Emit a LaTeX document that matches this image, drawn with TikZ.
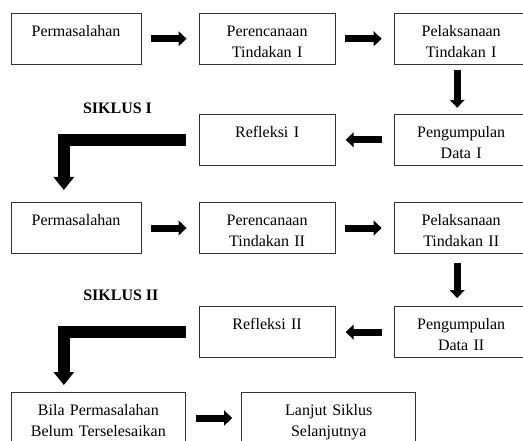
\documentclass[tikz,border=0pt]{standalone}
\usepackage{fontspec}
\setmainfont{Liberation Serif}
\usetikzlibrary{positioning}
\usetikzlibrary{arrows.meta}
\tikzstyle{box} = [draw=black!80, line width=0.8pt, inner sep=0pt, align=center, text width=102pt, text height=17.4pt, text depth=20.85pt, font=\fontsize{12}{15.75}\selectfont]
\tikzstyle{arr} = [line width=5.25pt, -{Triangle[width=11pt,length=6pt]}, shorten <=7pt, shorten >=9pt]
\tikzstyle{bigarr} = [line width=9pt, -{Triangle[width=15pt,length=9.75pt]}]
\tikzstyle{siklus} = [font=\fontsize{12}{14}\selectfont\bfseries, inner sep=0pt]

\begin{document}
\begin{tikzpicture}[x=0.75pt, y=-0.75pt]
\useasboundingbox (0,0) rectangle (523,441);

% Siklus I
\node[box, text width=97.5pt, anchor=north west] at (10.5,12.7) (p1) {Permasalahan};
\node[box, right = 42.75pt of p1]                 (r1) {Perencanaan\\Tindakan I};
\node[box, text width=100.5pt, right = 43.5pt of r1] (c1) {Pelaksanaan\\Tindakan I};
\node[box, text width=100.5pt, below = 36.75pt of c1] (d1) {Pengumpulan\\Data I};
\node[box, left = 43.5pt of d1]                  (f1) {Refleksi I};
\node[siklus] at (117.5,108)                     (s1) {SIKLUS I};

% Siklus II
\node[box, text width=97.5pt, anchor=north west] at (10.5,202) (p2) {Permasalahan};
\node[box, right = 42.75pt of p2]                 (r2) {Perencanaan\\Tindakan II};
\node[box, text width=100.5pt, right = 43.5pt of r2] (c2) {Pelaksanaan\\Tindakan II};
\node[box, text width=100.5pt, below = 39pt of c2] (d2) {Pengumpulan\\Data II};
\node[box, left = 43.5pt of d2]                  (f2) {Refleksi II};
\node[siklus, anchor=west] at (83,295)           (s2) {SIKLUS II};

% Lanjut
\node[box, text width=131pt, anchor=north west] at (10.5,392) (b) {Bila Permasalahan\\Belum Terselesaikan};
\node[box, text width=130.5pt, right = 41.25pt of b] (l) {Lanjut Siklus\\Selanjutnya};

% Edges
\draw[arr] (p1) -- (r1);
\draw[arr] (r1) -- (c1);
\draw[arr, shorten <=4pt, shorten >=4.5pt] ([xshift=-3pt]c1.south) -- ([xshift=-3pt]d1.north);
\draw[arr, shorten <=9pt, shorten >=7.5pt] (d1) -- (f1);
\draw[bigarr, shorten >=9pt] ([xshift=-9.75pt]f1.west) -| ([xshift=40pt]p2.north west);

\draw[arr] (p2) -- (r2);
\draw[arr] (r2) -- (c2);
\draw[arr, shorten <=7pt, shorten >=6pt] ([xshift=-3pt]c2.south) -- ([xshift=-3pt]d2.north);
\draw[arr, shorten <=9pt, shorten >=7.5pt] (d2) -- (f2);
\draw[bigarr, shorten >=5.25pt] ([xshift=-9.75pt]f2.west) -| ([xshift=40pt]b.north west);

\draw[arr, shorten <=7.5pt, shorten >=6.75pt] (b) -- (l);

\end{tikzpicture}
\end{document}
